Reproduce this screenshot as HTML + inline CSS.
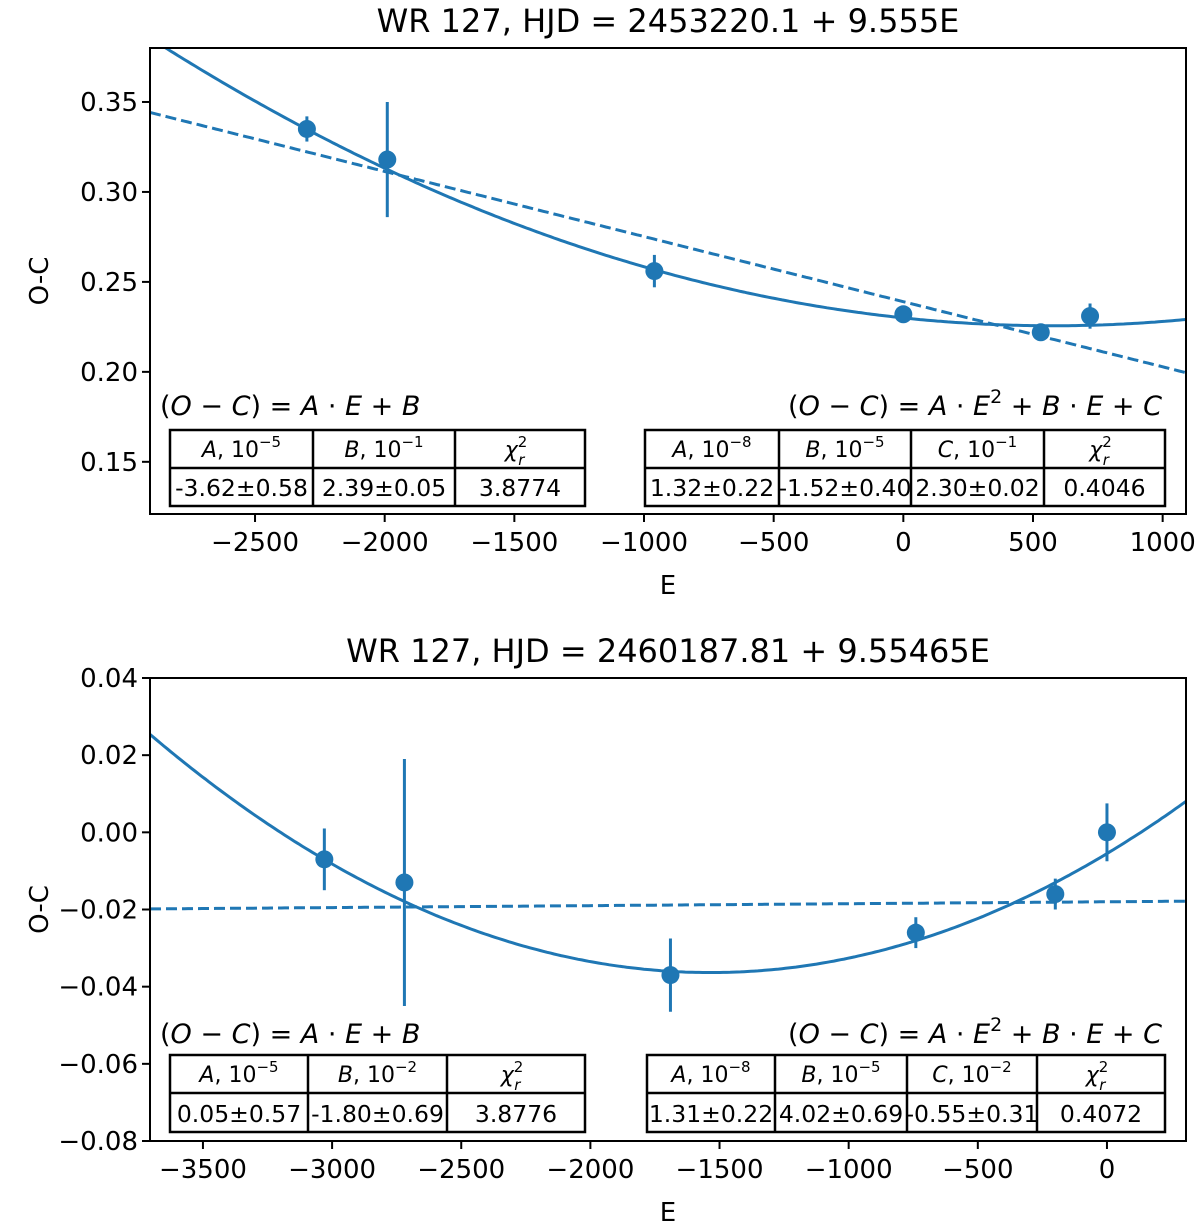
<!DOCTYPE html>
<html><head><meta charset="utf-8"><style>
body{margin:0;background:#fff}
svg{display:block;font-family:"DejaVu Sans","Liberation Sans",sans-serif}
</style></head><body>
<svg id="fig" width="1200" height="1232" viewBox="0 0 1200 1232" xmlns="http://www.w3.org/2000/svg"></svg>
<script>
// ---- Panel 1 data ----
const p1E = [-2300, -1990, -960, 0, 530, 720];
const p1OC = [0.335, 0.318, 0.256, 0.232, 0.222, 0.231];
const p1Err = [0.007, 0.032, 0.009, 0.002, 0.003, 0.007];
const p1Lin = [-3.62e-5, 0.239];
const p1Quad = [1.32e-8, -1.52e-5, 0.230];
const p1XTicks = [-2500, -2000, -1500, -1000, -500, 0, 500, 1000];
const p1YTicks = [0.15, 0.20, 0.25, 0.30, 0.35];
const p1YLabels = ["0.15", "0.20", "0.25", "0.30", "0.35"];
const p1LinHead = ["A, 10|-5", "B, 10|-1", "chi"];
const p1LinVals = ["-3.62±0.58", "2.39±0.05", "3.8774"];
const p1QuadHead = ["A, 10|-8", "B, 10|-5", "C, 10|-1", "chi"];
const p1QuadVals = ["1.32±0.22", "-1.52±0.40", "2.30±0.02", "0.4046"];
// ---- Panel 2 data ----
const p2E = [-3030, -2720, -1690, -740, -200, 0];
const p2OC = [-0.007, -0.013, -0.037, -0.026, -0.016, 0.000];
const p2Err = [0.008, 0.032, 0.0095, 0.004, 0.004, 0.0075];
const p2Lin = [0.05e-5, -0.0180];
const p2Quad = [1.31e-8, 4.02e-5, -0.0055];
const p2XTicks = [-3500, -3000, -2500, -2000, -1500, -1000, -500, 0];
const p2YTicks = [-0.08, -0.06, -0.04, -0.02, 0.00, 0.02, 0.04];
const p2YLabels = ["−0.08", "−0.06", "−0.04", "−0.02", "0.00", "0.02", "0.04"];
const p2LinHead = ["A, 10|-5", "B, 10|-2", "chi"];
const p2LinVals = ["0.05±0.57", "-1.80±0.69", "3.8776"];
const p2QuadHead = ["A, 10|-8", "B, 10|-5", "C, 10|-2", "chi"];
const p2QuadVals = ["1.31±0.22", "4.02±0.69", "-0.55±0.31", "0.4072"];

const NS = "http://www.w3.org/2000/svg";
const svg = document.getElementById("fig");
const C = "#1f77b4";
function mk(tag, attrs, parent, text) {
  const e = document.createElementNS(NS, tag);
  for (const k in attrs) e.setAttribute(k, attrs[k]);
  if (text !== undefined) e.textContent = text;
  (parent || svg).appendChild(e);
  return e;
}
function fmtTick(v) { return v < 0 ? "−" + Math.abs(v) : String(v); }

function headCell(g, txt, cx, y) {
  if (txt === "chi") {
    const t = mk("text", {x: cx - 4, y: y, "text-anchor": "middle", "font-size": 22, "font-style": "italic"}, g);
    
    
    t.textContent = "χ";
    mk("tspan", {dy: -10, "font-size": 15, "font-style": "normal"}, t, "2");
    mk("tspan", {dx: -9, dy: 18, "font-size": 15}, t, "r");
    return;
  }
  const [a, e] = txt.split("|");
  const t = mk("text", {x: cx, y: y, "text-anchor": "middle", "font-size": 22}, g);
  
  
  mk("tspan", {"font-style": "italic"}, t, a[0]);
  mk("tspan", {}, t, a.slice(1).replace("-", "−"));
  mk("tspan", {dy: -10, "font-size": 15}, t, e.replace("-", "−"));
}

function table(g, x0, cols, y0, y1, y2, head, vals, name) {
  const tg = mk("g", {}, g);
  
  
  const xe = cols[cols.length - 1];
  mk("rect", {x: x0, y: y0, width: xe - x0, height: y2 - y0, fill: "#fff", stroke: "#000", "stroke-width": 2.5}, tg);
  mk("line", {x1: x0, x2: xe, y1: y1, y2: y1, stroke: "#000", "stroke-width": 2.5}, tg);
  let xs = [x0].concat(cols);
  for (let i = 0; i < head.length; i++) {
    if (i > 0) mk("line", {x1: xs[i], x2: xs[i], y1: y0, y2: y2, stroke: "#000", "stroke-width": 2.5}, tg);
    const cx = (xs[i] + xs[i + 1]) / 2;
    headCell(tg, head[i], cx, y0 + 27);
    const v = mk("text", {x: cx, y: y2 - 10, "text-anchor": "middle", "font-size": 23.5}, tg, vals[i]);
    
    
  }
}

function formula(g, x, y, anchor, quad) {
  const t = mk("text", {x: x, y: y, "text-anchor": anchor, "font-size": 27, "font-style": "italic"}, g);
  
  
  mk("tspan", {"font-style": "normal"}, t, "(");
  mk("tspan", {}, t, "O");
  mk("tspan", {"font-style": "normal"}, t, " − ");
  mk("tspan", {}, t, "C");
  mk("tspan", {"font-style": "normal"}, t, ") = ");
  mk("tspan", {}, t, "A");
  mk("tspan", {"font-style": "normal"}, t, " · ");
  mk("tspan", {}, t, "E");
  if (quad) {
    mk("tspan", {dy: -12, "font-size": 19, "font-style": "normal"}, t, "2");
    mk("tspan", {dy: 12, "font-style": "normal"}, t, " + ");
    mk("tspan", {}, t, "B");
    mk("tspan", {"font-style": "normal"}, t, " · ");
    mk("tspan", {}, t, "E");
    mk("tspan", {"font-style": "normal"}, t, " + ");
    mk("tspan", {}, t, "C");
  } else {
    mk("tspan", {"font-style": "normal"}, t, " + ");
    mk("tspan", {}, t, "B");
  }
}

function panel(o) {
  const g = mk("g", {});
  
  
  const L = 150, R = 1186, T = o.top, B = o.bottom;
  const sx = v => L + (v - o.xmin) / (o.xmax - o.xmin) * (R - L);
  const sy = v => B - (v - o.ymin) / (o.ymax - o.ymin) * (B - T);
  const clip = "clip" + o.name;
  const cp = mk("clipPath", {id: clip}, g);
  mk("rect", {x: L, y: T, width: R - L, height: B - T}, cp);
  const pg = mk("g", {"clip-path": "url(#" + clip + ")"}, g);
  let dq = "", dl = "";
  for (let i = 0; i <= 300; i++) {
    const e = o.xmin + (o.xmax - o.xmin) * i / 300;
    const q = o.quad[0] * e * e + o.quad[1] * e + o.quad[2];
    const l = o.lin[0] * e + o.lin[1];
    dq += (i ? "L" : "M") + sx(e).toFixed(1) + " " + sy(q).toFixed(1);
    dl += (i ? "L" : "M") + sx(e).toFixed(1) + " " + sy(l).toFixed(1);
  }
  const qp = mk("path", {d: dq, fill: "none", stroke: C, "stroke-width": 3}, pg);
  
  
  const lp = mk("path", {d: dl, fill: "none", stroke: C, "stroke-width": 3, "stroke-dasharray": "11 5"}, pg);
  
  
  for (let i = 0; i < o.E.length; i++) {
    const eb = mk("line", {x1: sx(o.E[i]), x2: sx(o.E[i]), y1: sy(o.OC[i] - o.err[i]), y2: sy(o.OC[i] + o.err[i]), stroke: C, "stroke-width": 3}, pg);
    
    
    const c = mk("circle", {cx: sx(o.E[i]), cy: sy(o.OC[i]), r: 9, fill: C}, pg);
    
    
  }
  formula(g, 160, o.fy, "start", false);
  formula(g, 1162, o.fy, "end", true);
  table(g, o.lt[0], o.lt.slice(1), o.ty0, o.ty1, o.ty2, o.linHead, o.linVals, "linear-fit-table");
  table(g, o.qt[0], o.qt.slice(1), o.ty0, o.ty1, o.ty2, o.quadHead, o.quadVals, "quadratic-fit-table");
  const fr = mk("rect", {x: L, y: T, width: R - L, height: B - T, fill: "none", stroke: "#000", "stroke-width": 2}, g);
  
  
  o.xt.forEach(v => {
    const x = sx(v);
    mk("line", {x1: x, x2: x, y1: B, y2: B + 8, stroke: "#000", "stroke-width": 2}, g);
    const t = mk("text", {x: x, y: B + 37, "text-anchor": "middle", "font-size": 26}, g, fmtTick(v));
    
    
  });
  o.yt.forEach((v, i) => {
    const y = sy(v);
    mk("line", {x1: L - 8, x2: L, y1: y, y2: y, stroke: "#000", "stroke-width": 2}, g);
    const t = mk("text", {x: L - 12, y: y + 9, "text-anchor": "end", "font-size": 26}, g, o.yl[i]);
    
    
  });
  const xl = mk("text", {x: (L + R) / 2, y: B + 80, "text-anchor": "middle", "font-size": 26}, g, "E");
  
  
  const yc = (T + B) / 2;
  const yl = mk("text", {x: 48, y: yc, "text-anchor": "middle", "font-size": 26, transform: "rotate(-90 48 " + yc + ")"}, g, "O-C");
  
  
  const ti = mk("text", {x: (L + R) / 2, y: o.titleY, "text-anchor": "middle", "font-size": 32}, g, o.title);
  
  
}

panel({name: "top-panel", top: 48, bottom: 514, xmin: -2905, xmax: 1090, ymin: 0.121, ymax: 0.380,
  E: p1E, OC: p1OC, err: p1Err, lin: p1Lin, quad: p1Quad, xt: p1XTicks, yt: p1YTicks, yl: p1YLabels,
  fy: 415, ty0: 430, ty1: 468, ty2: 506, lt: [170, 313, 455, 585], qt: [645, 779, 911, 1044, 1165],
  linHead: p1LinHead, linVals: p1LinVals, quadHead: p1QuadHead, quadVals: p1QuadVals,
  titleY: 32, title: "WR 127, HJD = 2453220.1 + 9.555E"});
panel({name: "bottom-panel", top: 678, bottom: 1141, xmin: -3705, xmax: 306, ymin: -0.08, ymax: 0.04,
  E: p2E, OC: p2OC, err: p2Err, lin: p2Lin, quad: p2Quad, xt: p2XTicks, yt: p2YTicks, yl: p2YLabels,
  fy: 1043, ty0: 1055, ty1: 1093, ty2: 1132, lt: [170, 308, 447, 585], qt: [647, 775, 907, 1037, 1165],
  linHead: p2LinHead, linVals: p2LinVals, quadHead: p2QuadHead, quadVals: p2QuadVals,
  titleY: 662, title: "WR 127, HJD = 2460187.81 + 9.55465E"});
</script>
</body></html>
